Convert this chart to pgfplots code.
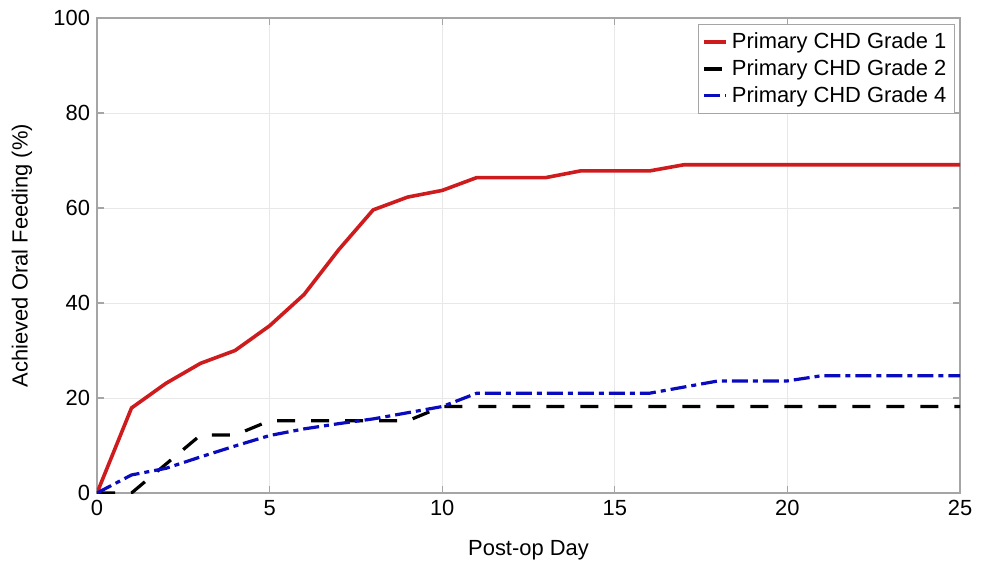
\documentclass[border=0pt]{standalone}
\usepackage{fontspec}
\setmainfont{Liberation Sans}
\usepackage{pgfplots}
\pgfplotsset{compat=1.18}
\definecolor{gred}{RGB}{206,28,30}
\definecolor{gblue}{RGB}{10,10,190}
\definecolor{gridc}{RGB}{232,232,232}
\definecolor{framec}{RGB}{165,165,165}
\begin{document}
\begin{tikzpicture}
\begin{axis}[
  scale only axis, width=431.5bp, height=237.5bp,
  xmin=0, xmax=25, ymin=0, ymax=100,
  xtick={0,5,10,15,20,25}, ytick={0,20,40,60,80,100},
  grid=major, major grid style={gridc, line width=0.5pt},
  axis line style={framec, line width=0.6pt},
  tick style={framec, line width=0.6pt}, tick align=inside,
  major tick length=3.5bp,
  /pgf/number format/assume math mode=true,
  tick label style={font=\fontsize{11}{12}\selectfont, black},
  label style={font=\fontsize{11}{12}\selectfont},
  xlabel={Post-op Day}, ylabel={Achieved Oral Feeding (\%)},
  xlabel style={at={(axis description cs:0.5,-0.12)}, anchor=center},
  ylabel style={at={(axis description cs:-0.0869,0.5)}, anchor=center},
  legend style={at={(0.994,0.987)}, anchor=north east, draw=framec, line width=0.5pt,
    font=\fontsize{11}{13}\selectfont, inner sep=2bp, row sep=0bp,
    cells={anchor=west}},
  legend image code/.code={\draw[#1] (0bp,0bp) -- (11bp,0bp);},
]
\addplot[gred, line width=1.8bp] coordinates {
(0,0) (1,17.9) (2,23.1) (3,27.3) (4,30.0) (5,35.2) (6,41.8) (7,51.2) (8,59.6) (9,62.3) (10,63.7)
(11,66.4) (12,66.4) (13,66.4) (14,67.8) (15,67.8) (16,67.8) (17,69.1) (18,69.1) (19,69.1) (20,69.1)
(21,69.1) (22,69.1) (23,69.1) (24,69.1) (25,69.1)};
\addlegendentry{Primary CHD Grade 1}
\addplot[black, line width=1.6bp, dash pattern=on 9bp off 8bp] coordinates {
(0,0) (1,0) (2,6.1) (3,12.2) (4,12.2) (5,15.2) (6,15.2) (7,15.2) (8,15.2) (9,15.2) (10,18.2)
(11,18.2) (12,18.2) (13,18.2) (14,18.2) (15,18.2) (16,18.2) (17,18.2) (18,18.2) (19,18.2) (20,18.2)
(21,18.2) (22,18.2) (23,18.2) (24,18.2) (25,18.2)};
\addlegendentry{Primary CHD Grade 2}
\addplot[gblue, line width=1.6bp, dash pattern=on 8bp off 2.5bp on 2.5bp off 2.5bp] coordinates {
(0,0) (1,3.8) (2,5.2) (3,7.6) (4,9.9) (5,12.1) (6,13.5) (7,14.6) (8,15.6) (9,16.9) (10,18.2)
(11,21.0) (12,21.0) (13,21.0) (14,21.0) (15,21.0) (16,21.0) (17,22.3) (18,23.6) (19,23.6) (20,23.6)
(21,24.7) (22,24.7) (23,24.7) (24,24.7) (25,24.7)};
\addlegendentry{Primary CHD Grade 4}
\end{axis}
\pgfresetboundingbox
\path ([shift={(-48.5bp,-35bp)}]current axis.south west) rectangle ([shift={(14bp,9bp)}]current axis.north east);
\end{tikzpicture}
\end{document}
